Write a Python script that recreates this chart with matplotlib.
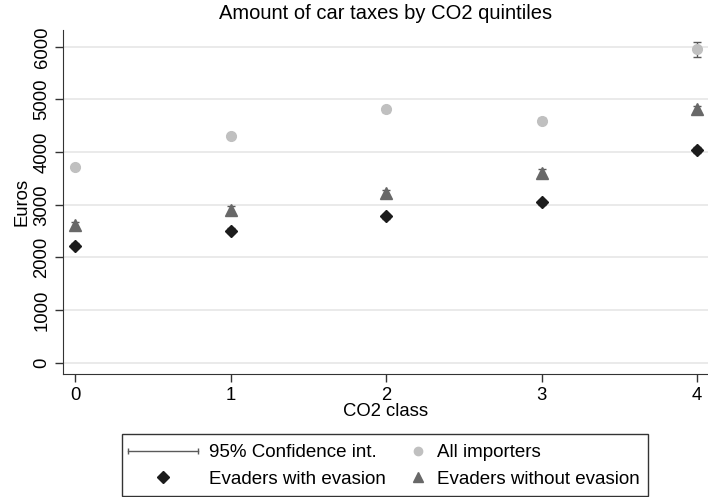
import numpy as np
import matplotlib.pyplot as plt
from matplotlib.lines import Line2D
from matplotlib.patches import Rectangle
from matplotlib.legend_handler import HandlerBase

plt.rcParams['font.family'] = ['Liberation Sans', 'DejaVu Sans']

co2_class = [0, 1, 2, 3, 4]
all_importers = [3720, 4300, 4810, 4600, 5950]
all_importers_ci = [40, 40, 40, 40, 150]
without_evasion = [2620, 2910, 3220, 3610, 4820]
without_evasion_ci = [60, 60, 60, 60, 60]
with_evasion = [2220, 2510, 2780, 3045, 4040]
with_evasion_ci = [50, 50, 50, 50, 50]

y_ticks = [0, 1000, 2000, 3000, 4000, 5000, 6000]

c_all = '#c0c0c0'
c_without = '#686868'
c_with = '#1c1c1c'
c_ci = '#5a5a5a'


class HandlerCI(HandlerBase):
    # horizontal line with small caps at each end
    def create_artists(self, legend, orig_handle, xdescent, ydescent,
                       width, height, fontsize, trans):
        y = height / 2 - ydescent
        x0, x1 = -xdescent, width - xdescent
        line = Line2D([x0, x1], [y, y], color=c_ci, lw=1.0, transform=trans)
        caps = Line2D([x0, x1], [y, y], ls='none', marker='|', ms=5,
                      mew=1.0, color=c_ci, transform=trans)
        return [line, caps]


fig = plt.figure(figsize=(7.08, 4.97), dpi=100)
ax = fig.add_axes([63 / 708, 1 - 374 / 497, 1 - 63 / 708, 344 / 497])

ax.errorbar(co2_class, all_importers, yerr=all_importers_ci, fmt='o',
            color=c_all, ms=7, ecolor=c_ci, elinewidth=1.0, capsize=3,
            capthick=1.0, zorder=3)
ax.errorbar(co2_class, without_evasion, yerr=without_evasion_ci, fmt='^',
            color=c_without, ms=8, ecolor=c_ci, elinewidth=1.0, capsize=3,
            capthick=1.0, zorder=3)
ax.errorbar(co2_class, with_evasion, yerr=with_evasion_ci, fmt='D',
            color=c_with, ms=6.5, ecolor=c_ci, elinewidth=1.0, capsize=3,
            capthick=1.0, zorder=3)

ax.set_xlim(-0.077, 4.07)
ax.set_ylim(-215, 6320)
ax.set_xticks(co2_class)
ax.set_yticks(y_ticks)
ax.set_yticklabels([str(v) for v in y_ticks], rotation=90, va='center')
ax.tick_params(labelsize=13.3, length=6, color='#333333', width=1.0, pad=3)
ax.grid(axis='y', color='#e6e6e6', lw=1.2)
ax.set_axisbelow(True)
for s in ['top', 'right']:
    ax.spines[s].set_visible(False)
for s in ['left', 'bottom']:
    ax.spines[s].set_color('#333333')

ax.set_xlabel('CO2 class', fontsize=13.3, labelpad=0)
ax.set_ylabel('Euros', fontsize=13.3, labelpad=2)
ax.set_title('Amount of car taxes by CO2 quintiles', fontsize=14.5, pad=8)

# legend box drawn as one frame holding two columns
fig.patches.append(Rectangle((122 / 708, 1 - 496 / 497), 526 / 708, 62 / 497,
                             transform=fig.transFigure, fill=False,
                             edgecolor='#333333', lw=1.0))

ci_proxy = object()
h_with = Line2D([], [], ls='none', marker='D', color=c_with, ms=6.5)
h_all = Line2D([], [], ls='none', marker='o', color=c_all, ms=6)
h_without = Line2D([], [], ls='none', marker='^', color=c_without, ms=6.5)

leg1 = fig.legend([ci_proxy, h_with],
                  ['95% Confidence int.', 'Evaders with evasion'],
                  handler_map={ci_proxy: HandlerCI()},
                  loc='center left', bbox_to_anchor=(128 / 708, 1 - 466 / 497),
                  frameon=False, fontsize=13.5, handlelength=3.73,
                  handletextpad=0.59, labelspacing=0.52, borderpad=0,
                  borderaxespad=0)
leg2 = fig.legend([h_all, h_without],
                  ['All importers', 'Evaders without evasion'],
                  loc='center left', bbox_to_anchor=(409 / 708, 1 - 466 / 497),
                  frameon=False, fontsize=13.5, handlelength=1.0,
                  handletextpad=0.5, labelspacing=0.52, borderpad=0,
                  borderaxespad=0)

fig.savefig('out.png', dpi=100)
